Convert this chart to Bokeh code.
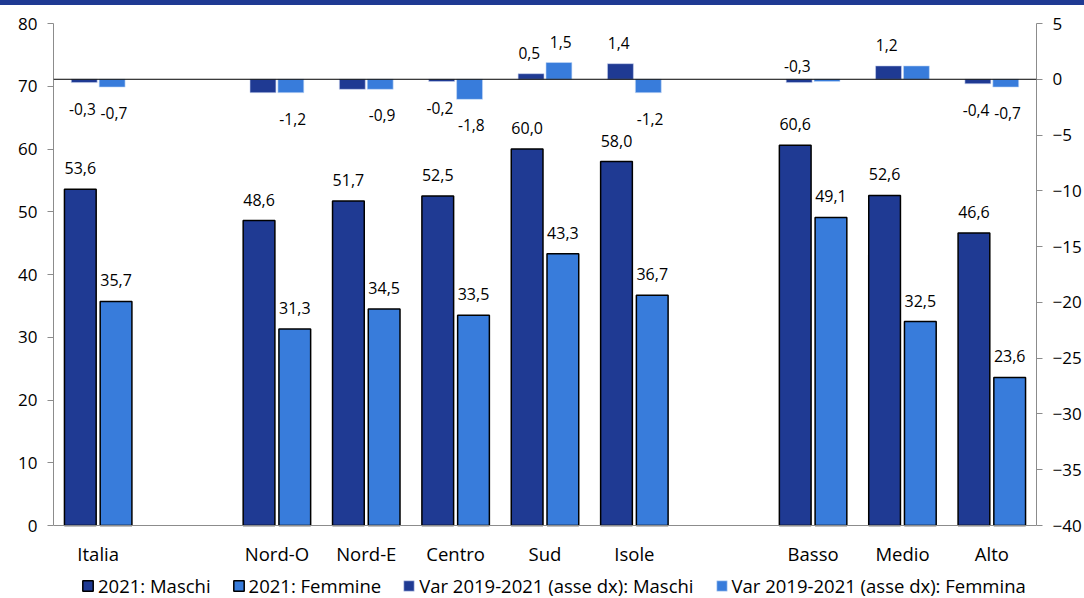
from bokeh.plotting import figure
from bokeh.models import (Range1d, FactorRange, LinearAxis, Span, Legend, LegendItem,
                          ColumnDataSource, FixedTicker, Div)
from bokeh.transform import dodge
from bokeh.layouts import column
from bokeh.embed import file_html
from bokeh.resources import INLINE
from bokeh.core.properties import value

# ---------------- data ----------------
groups = [["Italia"], ["Nord-O", "Nord-E", "Centro", "Sud", "Isole"], ["Basso", "Medio", "Alto"]]
categories = [c for g in groups for c in g]
maschi_2021 = [53.6, 48.6, 51.7, 52.5, 60.0, 58.0, 60.6, 52.6, 46.6]
femmine_2021 = [35.7, 31.3, 34.5, 33.5, 43.3, 36.7, 49.1, 32.5, 23.6]
var_maschi = [-0.3, -1.2, -0.9, -0.2, 0.5, 1.4, -0.3, 1.2, -0.4]
var_femmine = [-0.7, -1.2, -0.9, -1.8, 1.5, -1.2, -0.2, 1.2, -0.7]
# which variation labels are shown in the original ("above"/"below"/None)
var_maschi_label = ["below", None, None, "below", "above", "above", "above0", "above", "below"]
var_femmine_label = ["below", "below", "below", "below", "above", "below", None, None, "below"]
series_names = ["2021: Maschi", "2021: Femmine",
                "Var 2019-2021 (asse dx): Maschi", "Var 2019-2021 (asse dx): Femmina"]
left_min, left_max = 0, 80
right_min, right_max = -40, 5
left_ticks = list(range(left_min, left_max + 1, 10))
right_ticks = list(range(right_min, right_max + 1, 5))

# ---------------- styles / geometry ----------------
DARK = "#1F3A93"
LIGHT = "#387CDB"
FONT = "Open Sans"
AXIS_GREY = "#8c8c8c"
PLOT_H = 502          # pixel height of the value area
EXTRA_BELOW = 73      # pixels under the value area (category labels + legend)


def fmt(v):
    return f"{v:.1f}".replace(".", ",")


factors = []
for gi, g in enumerate(groups):
    if gi > 0:
        factors.append(" " * gi)
    factors += g

src = ColumnDataSource(dict(cat=categories, m=maschi_2021, f=femmine_2021,
                            vm=var_maschi, vf=var_femmine, zero=[0] * len(categories),
                            ml=[fmt(v) for v in maschi_2021], fl=[fmt(v) for v in femmine_2021]))

lpp = (left_max - left_min) / PLOT_H
rpp = (right_max - right_min) / PLOT_H
p = figure(x_range=FactorRange(factors=factors, range_padding=0),
           y_range=Range1d(left_min - EXTRA_BELOW * lpp, left_max),
           width=1084, height=593, output_backend="svg", toolbar_location=None,
           min_border_left=53, min_border_right=47, min_border_top=18, min_border_bottom=0)
p.extra_y_ranges = {"right": Range1d(right_min - EXTRA_BELOW * rpp, right_max)}
p.xgrid.visible = False
p.ygrid.visible = False
p.outline_line_color = None
p.background_fill_color = "white"
p.xaxis.visible = False

BW = 0.355
OFF = 0.2
VW = 0.29
VOFF = 0.156

r1 = p.vbar(x=dodge("cat", -OFF, range=p.x_range), top="m", width=BW, source=src,
            fill_color=DARK, line_color="black", line_width=1.5)
r2 = p.vbar(x=dodge("cat", OFF, range=p.x_range), top="f", width=BW, source=src,
            fill_color=LIGHT, line_color="black", line_width=1.5)
r3 = p.vbar(x=dodge("cat", -VOFF, range=p.x_range), top="vm", bottom=0, width=VW, source=src,
            y_range_name="right", fill_color=DARK, line_color="#c8d2ee", line_width=0.6)
r4 = p.vbar(x=dodge("cat", VOFF, range=p.x_range), top="vf", bottom=0, width=VW, source=src,
            y_range_name="right", fill_color=LIGHT, line_color="#c8dcf6", line_width=0.6)

# zero line of the right axis and base line of the chart
p.add_layout(Span(location=0, dimension="width", y_range_name="right",
                  line_color="black", line_width=1))
p.add_layout(Span(location=left_min, dimension="width", line_color=AXIS_GREY, line_width=1))

# category labels
p.text(x="cat", y="zero", text="cat", source=src, y_offset=28,
       text_align="center", text_baseline="middle", text_font=value(FONT),
       text_font_size="18.5px", text_color="black")

# 2021 labels
p.text(x=dodge("cat", -OFF, range=p.x_range), y="m", text="ml", source=src, y_offset=-21,
       text_align="center", text_baseline="middle", text_font=value(FONT),
       text_font_size="16px", text_color="black")
p.text(x=dodge("cat", OFF, range=p.x_range), y="f", text="fl", source=src, y_offset=-21,
       text_align="center", text_baseline="middle", text_font=value(FONT),
       text_font_size="16px", text_color="black")

# variation labels
lab = dict(cat=[], y=[], t=[], yo=[])
lab_f = dict(cat=[], y=[], t=[], yo=[])
for c, v, s in zip(categories, var_maschi, var_maschi_label):
    if s is None:
        continue
    lab["cat"].append(c)
    lab["t"].append(fmt(v))
    if s == "below":
        lab["y"].append(v); lab["yo"].append(26)
    elif s == "above":
        lab["y"].append(v); lab["yo"].append(-21)
    else:
        lab["y"].append(0); lab["yo"].append(-13)
for c, v, s in zip(categories, var_femmine, var_femmine_label):
    if s is None:
        continue
    lab_f["cat"].append(c)
    lab_f["t"].append(fmt(v))
    lab_f["y"].append(v)
    lab_f["yo"].append(26 if s == "below" else -21)

p.text(x=dodge("cat", -VOFF - 0.02, range=p.x_range), y="y", text="t", y_offset="yo",
       source=ColumnDataSource(lab), y_range_name="right",
       text_align="center", text_baseline="middle", text_font=value(FONT),
       text_font_size="15.5px", text_color="black")
p.text(x=dodge("cat", VOFF + 0.02, range=p.x_range), y="y", text="t", y_offset="yo",
       source=ColumnDataSource(lab_f), y_range_name="right",
       text_align="center", text_baseline="middle", text_font=value(FONT),
       text_font_size="15.5px", text_color="black")

# axes
yl = p.yaxis[0]
yl.ticker = FixedTicker(ticks=left_ticks)
yl.bounds = (left_min, left_max)
yr = LinearAxis(y_range_name="right", ticker=FixedTicker(ticks=right_ticks),
                bounds=(right_min, right_max))
p.add_layout(yr, "right")
for ax in (yl, yr):
    ax.axis_line_color = AXIS_GREY
    ax.major_tick_line_color = AXIS_GREY
    ax.major_tick_out = 6
    ax.major_tick_in = 0
    ax.minor_tick_line_color = None
    ax.major_label_standoff = 10
    ax.major_label_text_font = FONT
    ax.major_label_text_font_size = "17px"
    ax.major_label_text_color = "black"

legend = Legend(items=[LegendItem(label=series_names[i], renderers=[r]) for i, r in enumerate([r1, r2, r3, r4])],
                orientation="horizontal", location=(28, 0),
                label_text_font=FONT, label_text_font_size="18.5px", label_text_color="black",
                glyph_width=13, glyph_height=13, spacing=21, label_standoff=4,
                padding=0, margin=0, border_line_color=None, background_fill_alpha=0)
p.add_layout(legend)

band = Div(text="", width=1084, height=5,
           styles={"background-color": DARK, "margin": "0", "padding": "0"})

layout = column(band, p, spacing=0)
open("out.html", "w").write(file_html(layout, INLINE))
